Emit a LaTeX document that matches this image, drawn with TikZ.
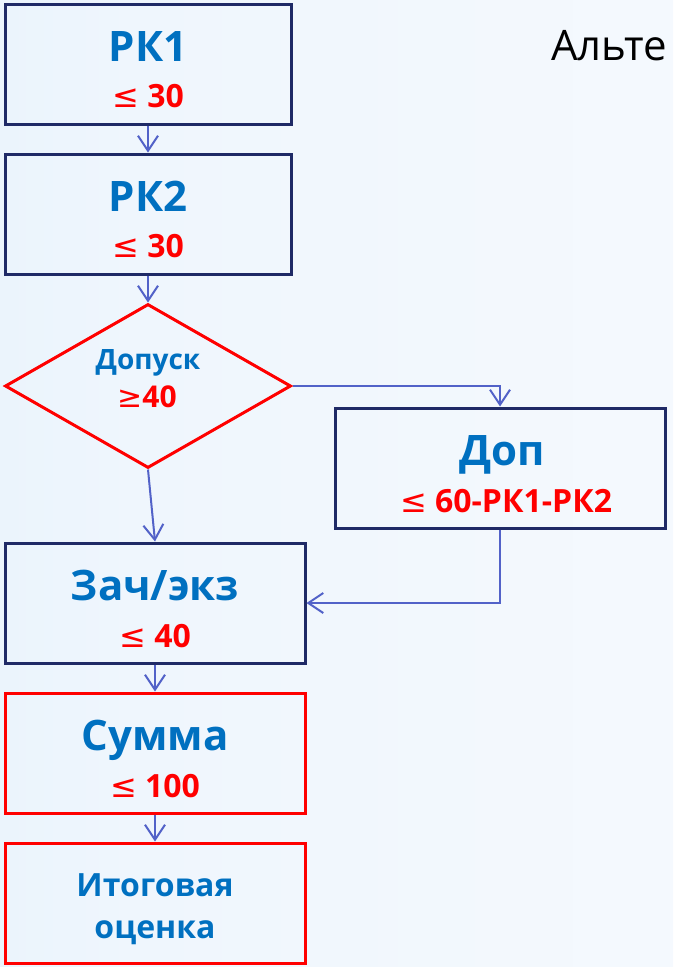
\documentclass[tikz,border=0pt]{standalone}
\usepackage{fontspec}
\setmainfont{Open Sans}
\newfontfamily\symf{DejaVu Sans}
\usetikzlibrary{shapes.geometric,arrows.meta}
\definecolor{navy}{HTML}{1F2A66}
\definecolor{tblue}{HTML}{0070C0}
\definecolor{tred}{HTML}{FF0000}
\definecolor{arr}{HTML}{5262C8}
\definecolor{bga}{HTML}{CDE4F7}
\definecolor{bgb}{HTML}{E4F1FB}
\definecolor{bgc}{HTML}{EFF6FD}
\definecolor{bgd}{HTML}{F8FBFE}
\pgfdeclarehorizontalshading{bgsh}{100bp}{color(0bp)=(bga); color(8bp)=(bgb); color(35bp)=(bgc); color(100bp)=(bgd)}
\newcommand{\lesym}{{\symf\mdseries ≤}}
\newcommand{\gesym}{{\symf\mdseries ≥}}
\begin{document}
\begin{tikzpicture}[x=1pt,y=-1pt,
  box/.style={draw=navy,line width=3pt,minimum width=286pt,minimum height=120pt,inner sep=0pt},
  rbox/.style={box,draw=tred},
  dia/.style={draw=tred,line width=3pt,diamond,aspect=1.744,minimum width=286pt,minimum height=164pt,inner sep=0pt},
  ttl/.style={text=tblue,font=\fontsize{42}{46}\selectfont\bfseries,inner sep=0pt,anchor=base},
  val/.style={text=tred,font=\fontsize{32}{36}\selectfont\bfseries,inner sep=0pt,anchor=base},
  sml/.style={text=tblue,font=\fontsize{28}{32}\selectfont\bfseries,inner sep=0pt,anchor=base},
  smv/.style={text=tred,font=\fontsize{30}{34}\selectfont\bfseries,inner sep=0pt,anchor=base},
  conn/.style={draw=arr,line width=2pt,-{Straight Barb[length=15pt,width=20pt,line width=2pt]}}]
\useasboundingbox (0,0) rectangle (673,967);
\shade[shading=bgsh] (0,0) rectangle (673,967);
\node[box] (rk1) at (148,64) {};
\node[ttl] (rk1a) at (148,61) {РК1};
\node[val] (rk1b) at (148,107) {\lesym{} 30};
\node[box] (rk2) at (148,214) {};
\node[ttl] (rk2a) at (148,211) {РК2};
\node[val] (rk2b) at (148,257) {\lesym{} 30};
\node[dia] (dop) at (148,386) {};
\node[sml] (dopa) at (148,369) {Допуск};
\node[smv] (dopb) at (147,407) {\gesym40};
\node[box,minimum width=330pt] (dp) at (500,468) {};
\node[ttl] (dpa) at (502,465) {Доп};
\node[val] (dpb) at (506,512) {\lesym{} 60-РК1-РК2};
\node[box,minimum width=300pt] (zach) at (155,603) {};
\node[ttl] (zacha) at (155,600) {Зач/экз};
\node[val] (zachb) at (155,647) {\lesym{} 40};
\node[rbox,minimum width=300pt] (sum) at (155,753) {};
\node[ttl] (suma) at (155,750) {Сумма};
\node[val] (sumb) at (155,797) {\lesym{} 100};
\node[rbox,minimum width=300pt] (itog) at (155,903) {};
\node[sml,font=\fontsize{32}{36}\selectfont\bfseries] (itoga) at (155,896) {Итоговая};
\node[sml,font=\fontsize{32}{36}\selectfont\bfseries] (itogb) at (155,938) {оценка};
\node[font=\fontsize{42}{46}\selectfont,text=black,anchor=base west,inner sep=0pt] (alt) at (551,60) {Альте};
\draw[conn] (rk1.south) -- (rk2.north);
\draw[conn] (rk2.south) -- (dop.north);
\draw[conn] (dop.east) -| (dp.north);
\draw[conn] (dop.south) -- (zach.north);
\draw[conn] (dp.south) |- (zach.east);
\draw[conn] (zach.south) -- (sum.north);
\draw[conn] (sum.south) -- (itog.north);
\end{tikzpicture}
\end{document}
